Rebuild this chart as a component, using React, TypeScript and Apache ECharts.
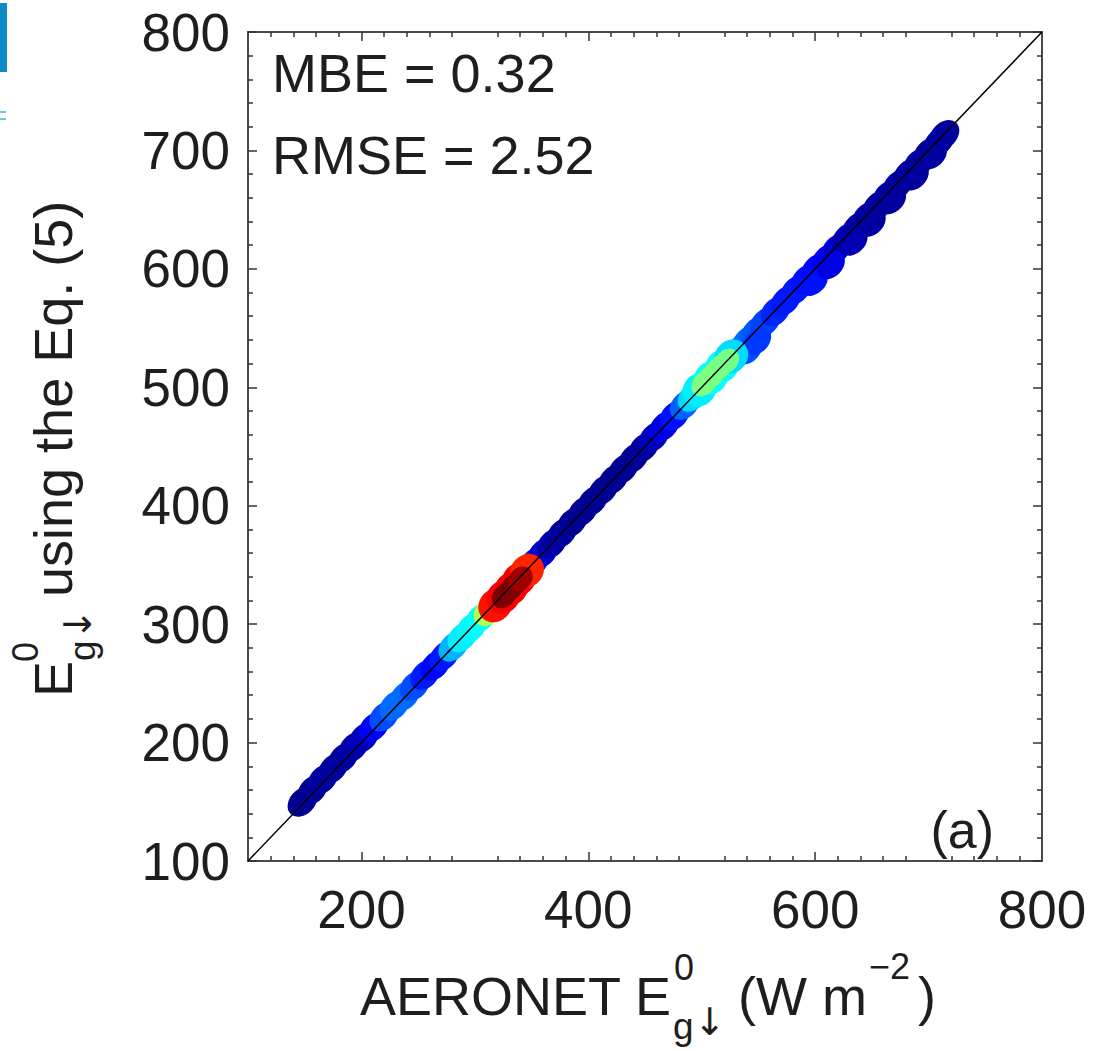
import React, { useEffect, useRef } from 'react';
import * as echarts from 'echarts';

// Axis ticks
const xLabelValues = [200, 400, 600, 800];
const yLabelValues = [100, 200, 300, 400, 500, 600, 700, 800];

// Main density band (x: AERONET, y: Eq. 5, d: relative point density)
const bandX = [148, 157, 166, 175, 184, 193, 202, 211, 220, 229, 238, 247, 256, 265, 273, 281, 289, 297, 305, 312, 320, 328, 336, 344, 352, 360, 368, 377, 386, 395, 404, 413, 422, 431, 440, 449, 458, 467, 476, 485, 492, 500, 508, 516, 524, 532, 540, 548, 556, 565, 574, 583, 592, 601, 610, 619, 628, 637, 646, 655, 664, 673, 682, 691, 700, 709, 714];
const bandY = [150, 160, 169, 178, 187, 196, 204, 213, 222, 231, 239, 248, 257, 265, 273, 281, 289, 297, 305, 311, 319, 327, 335, 343, 352, 360, 368, 377, 386, 395, 404, 413, 422, 431, 440, 449, 458, 467, 476, 485, 492, 500, 508, 516, 524, 531, 539, 547, 555, 564, 573, 582, 591, 600, 608, 617, 626, 635, 644, 653, 662, 671, 680, 689, 698, 707, 713];
const bandD = [0.02, 0.02, 0.03, 0.03, 0.03, 0.04, 0.06, 0.12, 0.2, 0.23, 0.23, 0.2, 0.15, 0.13, 0.15, 0.3, 0.36, 0.37, 0.38, 0.55, 0.85, 0.88, 0.88, 0.8, 0.15, 0.08, 0.04, 0.03, 0.02, 0.02, 0.02, 0.02, 0.02, 0.02, 0.02, 0.03, 0.06, 0.1, 0.14, 0.22, 0.34, 0.4, 0.42, 0.42, 0.4, 0.3, 0.23, 0.21, 0.19, 0.16, 0.15, 0.15, 0.14, 0.13, 0.12, 0.08, 0.05, 0.04, 0.03, 0.03, 0.03, 0.03, 0.03, 0.03, 0.03, 0.03, 0.03];

// Points scattered below the 1:1 line (bulges of the cloud)
const spreadX = [541, 549, 599, 614, 634, 650, 668, 688, 704];
const spreadY = [531, 539, 589, 603, 623, 639, 658, 678, 696];
const spreadD = [0.2, 0.18, 0.14, 0.1, 0.05, 0.03, 0.03, 0.03, 0.03];

// Wider high-density patches
const haloX = [318, 325, 332, 339, 346, 498, 508, 518, 526];
const haloY = [316, 323, 330, 338, 345, 498, 508, 518, 526];
const haloD = [0.86, 0.88, 0.88, 0.88, 0.84, 0.36, 0.38, 0.38, 0.34];

// Density maxima
const coreX = [326, 333, 340, 502, 509, 516, 522];
const coreY = [324, 331, 338, 503, 510, 517, 522];
const coreD = [1.0, 1.0, 0.97, 0.5, 0.5, 0.5, 0.49];

const oneToOne = [[100, 100], [800, 800]];

const FONT = '"Liberation Sans", Arial, Helvetica, sans-serif';
const ARROW_FONT = '"DejaVu Sans", sans-serif';
const TXT = '#1e1e1e';
const ELLIPSE = 'path://M0,10 A10,10 0 1,1 20,10 A10,10 0 1,1 0,10 Z';

const zip = (xs: number[], ys: number[], ds: number[]) => xs.map((x, i) => [x, ys[i], ds[i]]);

export default function App() {
  const ref = useRef<HTMLDivElement>(null);
  useEffect(() => {
    if (!ref.current) return;
    const chart = echarts.init(ref.current, undefined, { renderer: 'svg' });
    const axisLine = { show: true, lineStyle: { color: '#4a4a4a', width: 2 } };
    const minorTick = { show: true, splitNumber: 5, length: 5, lineStyle: { color: '#333', width: 1.5 } };
    const tick = (len: number) => ({ show: true, inside: true, length: len, lineStyle: { color: '#333', width: 1.5 } });
    const baseX = { type: 'value', min: 100, max: 800, interval: 100, splitLine: { show: false }, axisLine, minorTick, minorSplitLine: { show: false } };
    const baseY = { type: 'value', min: 100, max: 800, interval: 100, splitLine: { show: false }, axisLine, minorTick, minorSplitLine: { show: false } };
    const scatter = (name: string, data: number[][], size: number[], z: number) => ({
      type: 'scatter', name, data, symbol: ELLIPSE, symbolSize: size, symbolRotate: 46,
      itemStyle: { opacity: 1 }, z, silent: true,
    });
    const txt = (text: string, x: number, y: number, size: number, font: string = FONT) => ({
      type: 'text', x, y, style: { text, fontSize: size, fontFamily: font, fill: TXT, align: 'left', verticalAlign: 'middle' },
    });
    const option: any = {
      animation: false,
      backgroundColor: '#ffffff',
      grid: { left: 248, top: 32, width: 794, height: 829 },
      xAxis: [
        {
          ...baseX,
          position: 'bottom',
          axisTick: { ...tick(9), customValues: [200, 400, 600] },
          axisLabel: {
            customValues: xLabelValues,
            fontSize: 53, fontFamily: FONT, color: TXT, margin: 22,
            formatter: (v: number) => (xLabelValues.includes(Math.round(v)) ? String(Math.round(v)) : ''),
          },
        },
        {
          ...baseX,
          position: 'top',
          axisTick: { ...tick(9), customValues: [200, 400, 600] },
          axisLabel: { show: false },
        },
      ],
      yAxis: [
        {
          ...baseY,
          position: 'left',
          axisTick: tick(9),
          axisLabel: {
            fontSize: 53, fontFamily: FONT, color: TXT, margin: 18,
            formatter: (v: number) => (yLabelValues.includes(Math.round(v)) ? String(Math.round(v)) : ''),
          },
        },
        {
          ...baseY,
          position: 'right',
          axisTick: tick(9),
          axisLabel: { show: false },
        },
      ],
      visualMap: {
        type: 'continuous', show: false, min: 0, max: 1, dimension: 2, seriesIndex: [0, 1, 2, 3],
        inRange: { color: ['#00007F', '#0000FF', '#007FFF', '#00FFFF', '#7FFF7F', '#FFFF00', '#FF7F00', '#FF0000', '#7F0000'] },
      },
      series: [
        scatter('band', zip(bandX, bandY, bandD), [34, 25], 2),
        scatter('spread', zip(spreadX, spreadY, spreadD), [32, 23], 2),
        scatter('halo', zip(haloX, haloY, haloD), [36, 32], 3),
        scatter('core', zip(coreX, coreY, coreD), [28, 22], 4),
        { type: 'line', name: '1:1', data: oneToOne, symbol: 'none', lineStyle: { color: '#000', width: 1.5 }, z: 10, silent: true },
      ],
      graphic: [
        { type: 'rect', shape: { x: 0, y: 3, width: 7, height: 69 }, style: { fill: '#0a8cc4' } },
        { type: 'rect', shape: { x: 0, y: 111, width: 6, height: 2 }, style: { fill: '#6cc6ea' } },
        { type: 'rect', shape: { x: 0, y: 118, width: 6, height: 2 }, style: { fill: '#6cc6ea' } },
        txt('MBE = 0.32', 272, 73, 54),
        txt('RMSE = 2.52', 272, 155, 54),
        { type: 'text', x: 994, y: 830, style: { text: '(a)', fontSize: 52, fontFamily: FONT, fill: TXT, align: 'right', verticalAlign: 'middle' } },
        // x-axis title
        txt('AERONET E', 360, 996, 54),
        txt('0', 674, 967, 36),
        txt('g', 673, 1026, 37),
        txt('\u2193', 694, 1022, 38, ARROW_FONT),
        txt('(W m', 738, 996, 54),
        txt('\u22122', 869, 966, 36),
        txt(')', 918, 996, 54),
        // y-axis title (rotated)
        {
          type: 'group', x: 72, y: 697, rotation: Math.PI / 2,
          children: [
            txt('E', 0, -19, 54),
            txt('0', 35, -47, 36),
            txt('g', 36, 10, 37),
            txt('\u2193', 57, 6, 38, ARROW_FONT),
            txt('using the Eq. (5)', 100, -19, 54),
          ],
        },
      ],
    };
    chart.setOption(option);
    return () => chart.dispose();
  }, []);
  return <div ref={ref} style={{ position: 'fixed', left: 0, top: 0, width: 1093, height: 1051, background: '#fff' }} />;
}
